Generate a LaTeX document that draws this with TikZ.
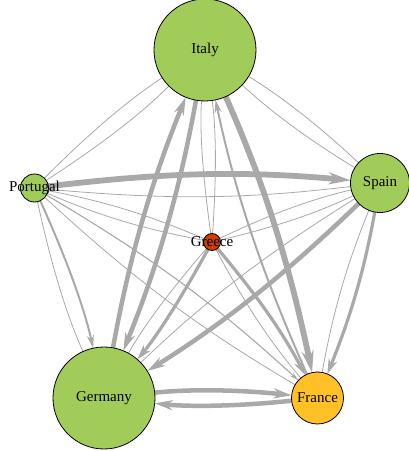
\documentclass[tikz,border=0pt]{standalone}
\usepackage{fontspec}
\setmainfont{Liberation Serif}
\usetikzlibrary{arrows.meta}
\pgfdeclarelayer{bg}
\pgfsetlayers{bg,main}
\definecolor{vgreen}{RGB}{162,204,90}
\definecolor{vgold}{RGB}{255,193,37}
\definecolor{vred}{RGB}{204,64,0}
\definecolor{egrey}{RGB}{169,169,169}
\def\radI{51pt}
\def\radS{29.5pt}
\def\radP{14pt}
\def\radG{8.5pt}
\def\radD{51pt}
\def\radF{26pt}
\newcommand{\edg}[3]{\draw[#1, shorten <=\csname rad#2\endcsname, shorten >=\csname rad#3\endcsname] (#2.center) to[bend left=6] (#3.center);}
\tikzset{
  vert/.style={circle, draw=black, line width=0.8pt, inner sep=0pt},
  lab/.style={font=\fontsize{15}{18}\selectfont, text=black, inner sep=0pt},
  edgebase/.style={draw=egrey, line cap=butt},
  ew1/.style={edgebase, line width=0.8pt},
  ew1h/.style={edgebase, line width=1.1pt, -{Stealth[length=9pt,width=4.5pt]}},
  ew2/.style={edgebase, line width=2pt, -{Stealth[length=13pt,width=7pt]}},
  ew3/.style={edgebase, line width=3.2pt, -{Stealth[length=15pt,width=9pt]}},
  ew4/.style={edgebase, line width=4.5pt, -{Stealth[length=18pt,width=10pt]}},
  ew5/.style={edgebase, line width=5.8pt, -{Stealth[length=22pt,width=12pt]}}
}
\begin{document}
\begin{tikzpicture}[x=1pt,y=1pt]
\useasboundingbox (0,0) rectangle (409,451);
% vertices
\node[vert, fill=vgreen, minimum size=102pt] (I) at (205,401) {};
\node[vert, fill=vgreen, minimum size=59pt] (S) at (380,268) {};
\node[vert, fill=vgreen, minimum size=28pt] (P) at (34.5,263) {};
\node[vert, fill=vred, minimum size=17pt] (G) at (212,209) {};
\node[vert, fill=vgreen, minimum size=102pt] (D) at (104,53) {};
\node[vert, fill=vgold, minimum size=52pt] (F) at (317.5,53) {};
% labels
\node[lab] (Ilab) at (I.center) {Italy};
\node[lab] (Slab) at (S.center) {Spain};
\node[lab] (Plab) at (P.center) {Portugal};
\node[lab] (Glab) at (G.center) {Greece};
\node[lab] (Dlab) at (D.center) {Germany};
\node[lab] (Flab) at (F.center) {France};
% edges
\begin{pgfonlayer}{bg}
\edg{ew1}{I}{S}
\edg{ew1}{S}{I}
\edg{ew1}{I}{P}
\edg{ew1}{P}{I}
\edg{ew1}{I}{G}
\edg{ew1}{G}{I}
\edg{ew4}{I}{D}
\edg{ew4}{D}{I}
\edg{ew5}{I}{F}
\edg{ew2}{F}{I}
\edg{ew1}{S}{P}
\edg{ew5}{P}{S}
\edg{ew1}{S}{G}
\edg{ew1}{G}{S}
\edg{ew4}{S}{D}
\edg{ew1}{D}{S}
\edg{ew3}{S}{F}
\edg{ew1}{F}{S}
\edg{ew1}{P}{G}
\edg{ew1}{G}{P}
\edg{ew2}{P}{D}
\edg{ew1}{D}{P}
\edg{ew1h}{P}{F}
\edg{ew1}{F}{P}
\edg{ew3}{G}{D}
\edg{ew1}{D}{G}
\edg{ew3}{G}{F}
\edg{ew1}{F}{G}
\edg{ew4}{D}{F}
\edg{ew4}{F}{D}
\end{pgfonlayer}
\end{tikzpicture}
\end{document}
